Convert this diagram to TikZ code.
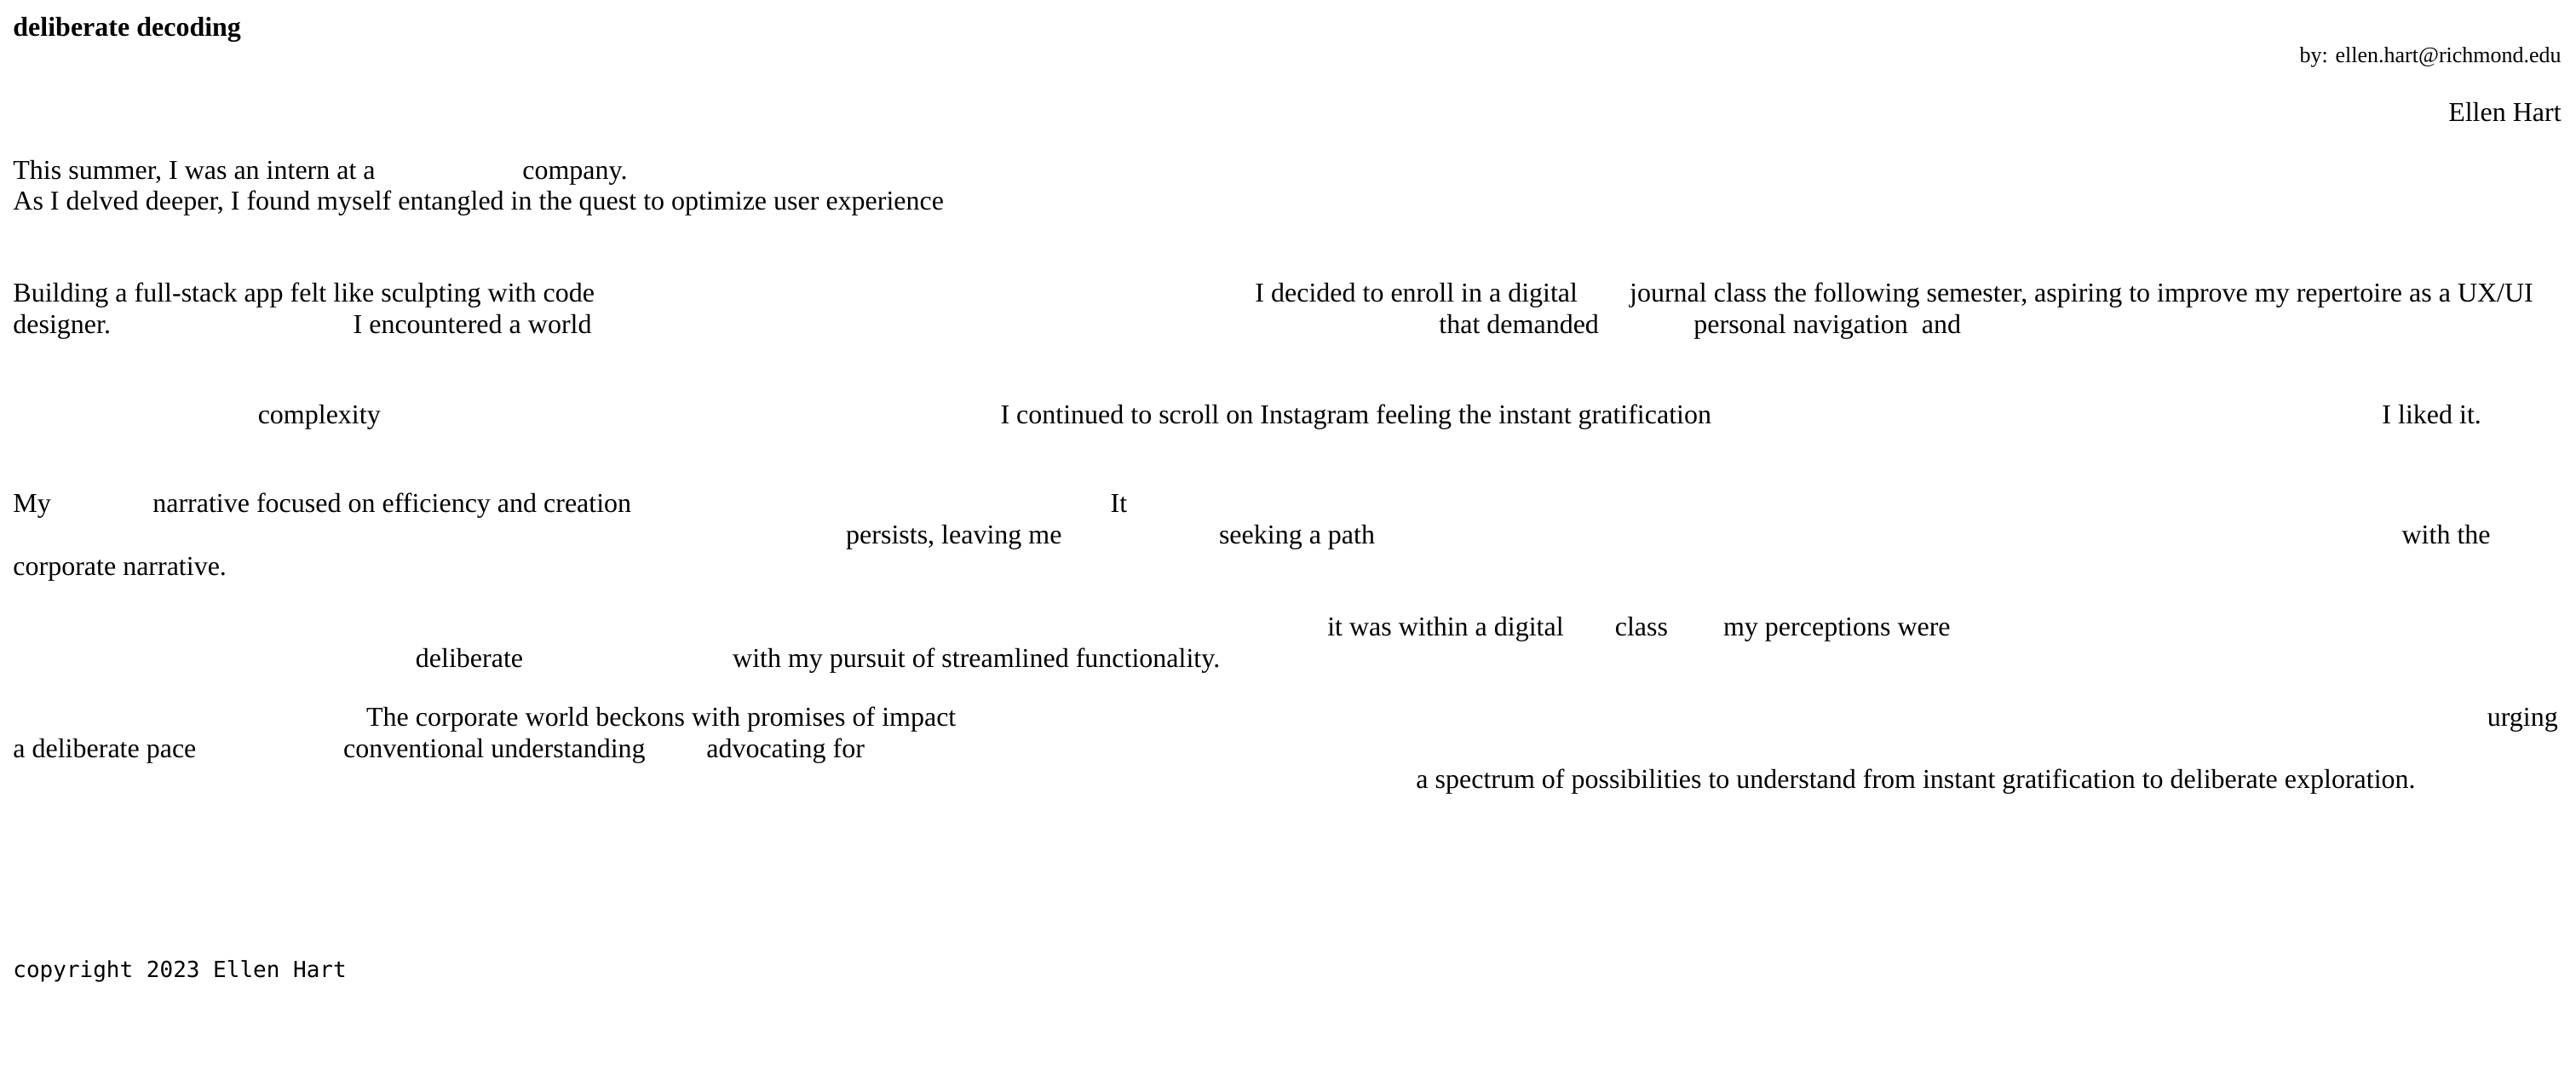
\documentclass[tikz,border=0pt]{standalone}
\usepackage{fontspec}
\setmainfont{Liberation Serif}
\newfontfamily\codefont{DejaVu Sans Mono}
\tikzset{
  txt/.style={inner sep=0pt, outer sep=0pt, anchor=base west, font=\fontsize{8pt}{9.2pt}\selectfont},
  rtxt/.style={txt, anchor=base east},
  small/.style={font=\fontsize{6.5pt}{7.5pt}\selectfont},
  ttl/.style={txt, font=\fontsize{8pt}{9.2pt}\selectfont\bfseries},
  code/.style={txt, font=\fontsize{6.5pt}{7.5pt}\selectfont\codefont}
}
\begin{document}
\begin{tikzpicture}[x=0.48214pt, y=-0.48214pt]
\fill[white] (0,0) rectangle (1568,654);
\useasboundingbox (0,0) rectangle (1568,654);
\node[ttl] (title) at (8,22) {deliberate decoding};
\node[rtxt, small] (by) at (1559,38) {by: ellen.hart@richmond.edu};
\node[rtxt] (name) at (1559,74) {Ellen Hart};
% line A
\node[txt] (a1) at (8,109) {This summer, I was an intern at a};
\node[txt] (a2) at (318,109) {company.};
% line B
\node[txt] (b1) at (8,128) {As I delved deeper, I found myself entangled in the quest to optimize user experience};
% line C
\node[txt] (c1) at (8,184) {Building a full-stack app felt like sculpting with code};
\node[txt] (c2) at (764,184) {I decided to enroll in a digital};
\node[txt] (c3) at (992,184) {journal class the following semester, aspiring to improve my repertoire as a UX/UI};
% line D
\node[txt] (d1) at (8,203) {designer.};
\node[txt] (d2) at (215,203) {I encountered a world};
\node[txt] (d3) at (876,203) {that demanded};
\node[txt] (d4) at (1031,203) {personal navigation\ \ and};
% line E
\node[txt] (e1) at (157,258) {complexity};
\node[txt] (e2) at (609,258) {I continued to scroll on Instagram feeling the instant gratification};
\node[txt] (e3) at (1450,258) {I liked it.};
% line F
\node[txt] (f1) at (8,312) {My};
\node[txt] (f2) at (93,312) {narrative focused on efficiency and creation};
\node[txt] (f3) at (676,312) {It};
% line G
\node[txt] (g1) at (515,331) {persists, leaving me};
\node[txt] (g2) at (742,331) {seeking a path};
\node[txt] (g3) at (1462,331) {with the};
% line H
\node[txt] (h1) at (8,350) {corporate narrative.};
% line I
\node[txt] (i1) at (808,387) {it was within a digital};
\node[txt] (i2) at (983,387) {class};
\node[txt] (i3) at (1049,387) {my perceptions were};
% line J
\node[txt] (j1) at (253,406) {deliberate};
\node[txt] (j2) at (446,406) {with my pursuit of streamlined functionality.};
% line K
\node[txt] (k1) at (223,442) {The corporate world beckons with promises of impact};
\node[txt] (k2) at (1514,442) {urging};
% line L
\node[txt] (l1) at (8,461) {a deliberate pace};
\node[txt] (l2) at (209,461) {conventional understanding};
\node[txt] (l3) at (430,461) {advocating for};
% line M
\node[txt] (m1) at (862,480) {a spectrum of possibilities to understand from instant gratification to deliberate exploration.};
% footer
\node[code] (copy) at (8,595) {copyright 2023 Ellen Hart};
\end{tikzpicture}
\end{document}
